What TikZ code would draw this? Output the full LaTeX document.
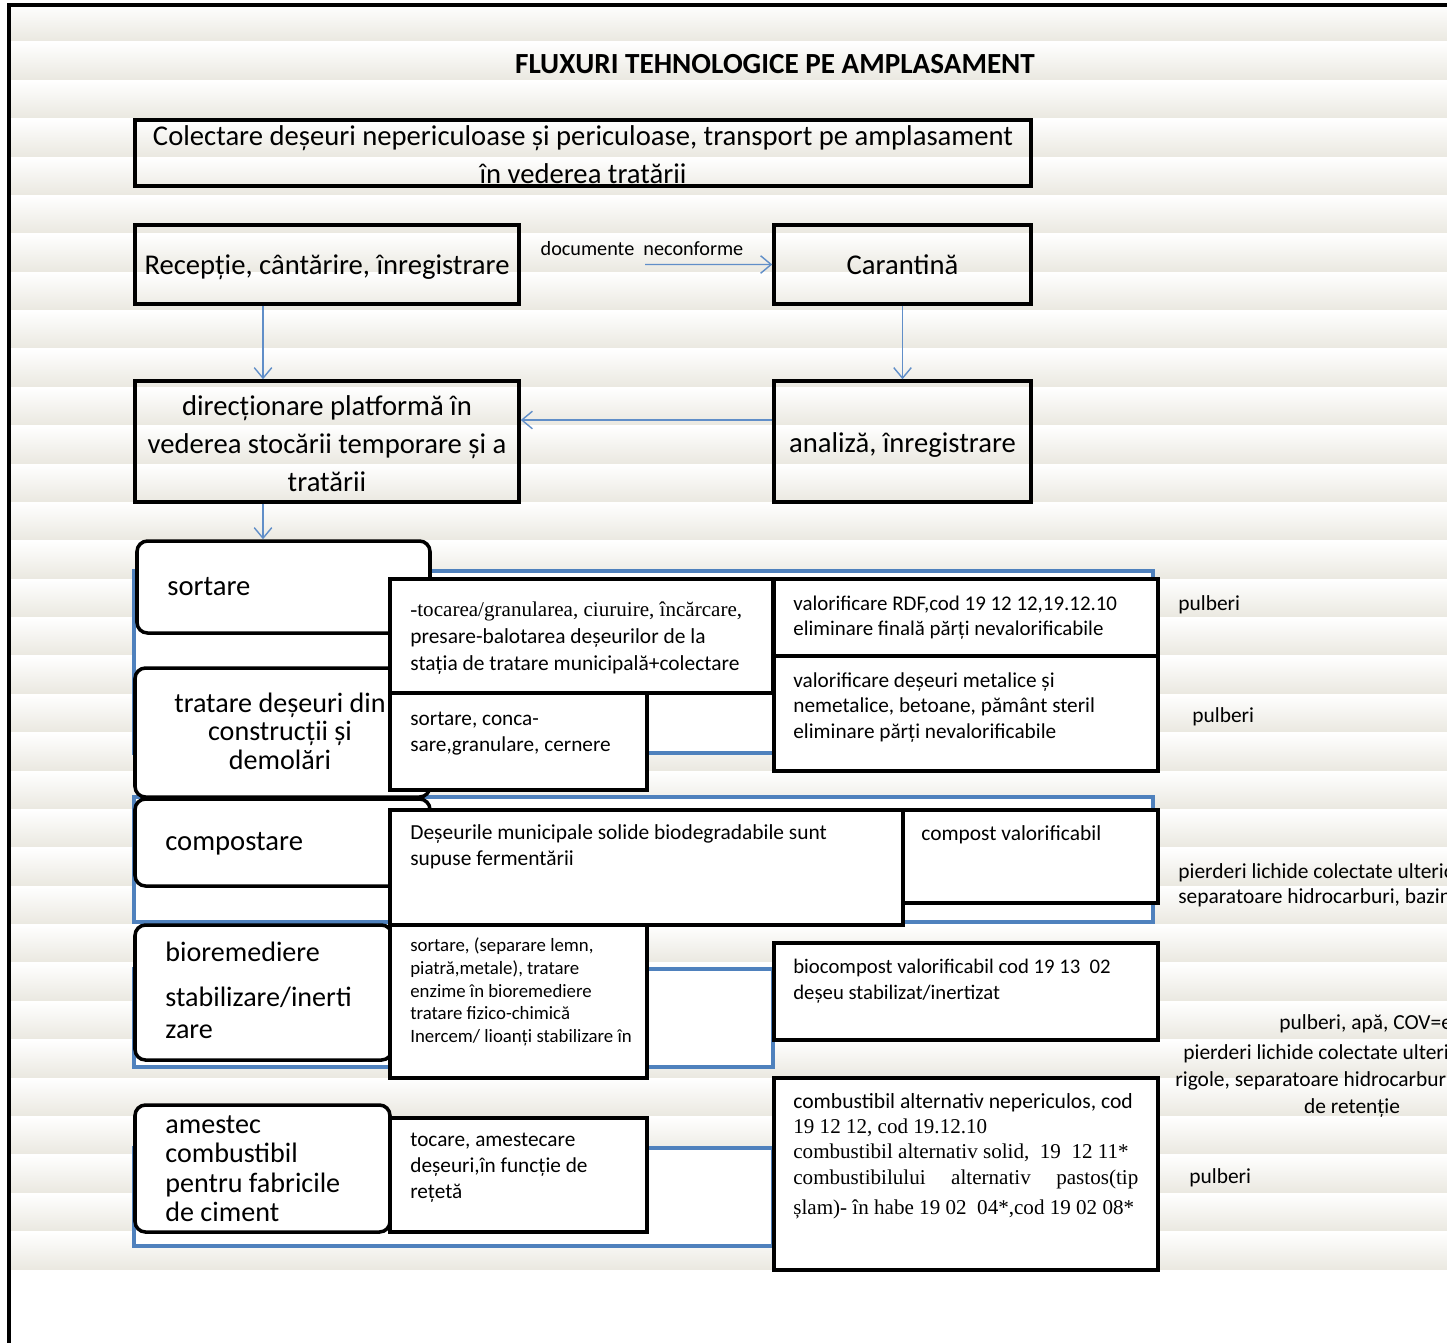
\documentclass[tikz,border=0pt]{standalone}
\usepackage{fontspec}
\setmainfont{Carlito}
\newfontfamily\tms{Liberation Serif}
\usetikzlibrary{fit,arrows.meta,calc}
\definecolor{bandgray}{RGB}{234,232,224}
\definecolor{grpblue}{RGB}{79,129,189}
\definecolor{arrblue}{RGB}{96,142,200}
\begin{document}
\begin{tikzpicture}[x=0.02cm,y=-0.02cm,
  blk/.style={draw=black,line width=2pt,inner sep=0pt},
  wblk/.style={blk,fill=white},
  rblk/.style={wblk,rounded corners=6pt},
  grp/.style={draw=grpblue,line width=1.8pt,fill=white,inner sep=0pt},
  conn/.style={draw=arrblue,line width=0.8pt,-{Straight Barb[length=6pt,width=10pt]}},
  txt/.style={inner sep=0pt,align=left},
  bigf/.style={font=\fontsize{16.3}{21.6}\selectfont},
  sidef/.style={inner sep=0pt,anchor=base west,font=\fontsize{12.2}{14}\selectfont}]
\useasboundingbox (0,0) rectangle (1447,1343);
\begin{scope}
\clip (0,0) rectangle (1447,1343);
\fill[white] (0,0) rectangle (1447,1343);
% striped page background
\foreach \k in {0,...,32}{
  \shade[top color=white,bottom color=bandgray]
    (10,{3.6+38.375*\k}) rectangle (1447,{3.6+38.375*(\k+1)});
}
% page frame
\draw[line width=2.2pt] (7,5) -- (1447,5);
\draw[line width=2.2pt] (9,5) -- (9,1343);

% title
\node[font=\fontsize{16.6}{19}\selectfont\bfseries] (title) at (775,64) {FLUXURI TEHNOLOGICE PE AMPLASAMENT};

% upper flow
\node[blk,fit={(135,120) (1031,186)}] (colect) {};
\node[bigf,txt,align=center,anchor=north] (tcolect) at (583,118.4)
  {\strut Colectare deșeuri nepericuloase și periculoase, transport pe amplasament\\în vederea tratării};
\node[blk,fit={(135,225) (519,304)}] (recep) {};
\node[bigf,inner sep=0pt] (trecep) at ([yshift=-0.05cm]recep.center) {Recepție, cântărire, înregistrare};
\node[blk,fit={(774,225) (1031,304)}] (carant) {};
\node[bigf,inner sep=0pt] (tcarant) at (carant.center) {Carantină};
\node[blk,fit={(135,381) (519,502)}] (direc) {};
\node[bigf,txt,align=center,anchor=north] (tdirec) at (327,388.4)
  {\strut direcționare platformă în\\vederea stocării temporare și a\\tratării};
\node[blk,fit={(774,381) (1031,502)}] (anal) {};
\node[bigf,inner sep=0pt] (tanal) at ([yshift=-0.07cm]anal.center) {analiză, înregistrare};
\node[inner sep=0pt,font=\fontsize{11.5}{14}\selectfont] (docs) at (642,249) {documente\ \ neconforme};

\coordinate (xl) at (263,0);
\coordinate (yr) at (0,420);
\coordinate (docstart) at (645,264.5);
\draw[conn] (docstart) -- (carant.west);
\draw[conn] (recep.south -| xl) -- (direc.north -| xl);
\draw[conn] (carant.south) -- (anal.north);
\draw[conn] (anal.west |- yr) -- (direc.east |- yr);

% group frames
\node[grp,fit={(134,571) (1153,753)}] (g1) {};
\node[grp,fit={(134,797) (1153,922)}] (g2) {};
\node[grp,fit={(134,969) (773,1067)}] (g3) {};
\node[grp,fit={(134,1148) (773,1246)}] (g4) {};

% process boxes
\node[rblk,fit={(137,541) (430,633)}] (sortare) {};
\node[rblk,fit={(135,668) (430,797)}] (tratare) {};
\node[rblk,fit={(135,799) (430,886)}] (compost) {};
\node[rblk,fit={(135,925) (392,1060)}] (biorem) {};
\node[rblk,fit={(135,1105) (390,1232)}] (amestec) {};
\draw[conn] (direc.south -| xl) -- (sortare.north -| xl);

\node[bigf,inner sep=0pt,anchor=base west] (tsortare) at (167,595) {sortare};
\node[txt,align=center,anchor=north,font=\fontsize{16}{16.2}\selectfont] (ttratare) at (280,692)
  {\strut tratare deșeuri din\\construcții și\\demolări};
\node[bigf,inner sep=0pt,anchor=base west] (tcompost) at (165,850) {compostare};
\node[txt,anchor=north west,font=\fontsize{16}{18.2}\selectfont] (tbiorem) at (165,938.6)
  {\strut bioremediere\\[7.4pt]stabilizare/inerti\\zare};
\node[txt,anchor=north west,font=\fontsize{16}{16.7}\selectfont] (tamestec) at (165,1112.5)
  {\strut amestec\\combustibil\\pentru fabricile\\de ciment};

% operations
\node[wblk,fit={(390,579) (773,693)}] (tocarea) {};
\node[txt,anchor=north west,font=\fontsize{12.2}{15.4}\selectfont] (ttocarea) at (410,597.1)
  {\strut{\tms\fontsize{12}{15.4}\selectfont -tocarea/granularea, ciuruire, încărcare,}\\presare-balotarea deșeurilor de la\\stația de tratare municipală+colectare};
\node[wblk,fit={(390,693) (647,790)}] (conca) {};
\node[txt,anchor=north west,font=\fontsize{12.1}{14.8}\selectfont] (tconca) at (410,706.8)
  {\strut sortare, conca-\\sare,granulare, cernere};
\node[wblk,fit={(390,810) (903,925)}] (deseuri) {};
\node[txt,anchor=north west,font=\fontsize{12.2}{14.8}\selectfont] (tdeseuri) at (410,820.8)
  {\strut Deșeurile municipale solide biodegradabile sunt\\supuse fermentării};
\node[wblk,fit={(390,925) (647,1078)}] (separ) {};
\node[txt,anchor=north west,font=\fontsize{10.7}{12.9}\selectfont] (tsepar) at (410,935.6)
  {\strut sortare, (separare lemn,\\piatră,metale), tratare\\enzime în bioremediere\\tratare fizico-chimică\\Inercem/ lioanți stabilizare în};
\node[wblk,fit={(390,1118) (647,1232)}] (tocare) {};
\node[txt,anchor=north west,font=\fontsize{12.1}{14.8}\selectfont] (ttocare) at (410,1127.8)
  {\strut tocare, amestecare\\deșeuri,în funcție de\\rețetă};

% results
\node[wblk,fit={(774,579) (1158,656)}] (rdf) {};
\node[txt,anchor=north west,font=\fontsize{11.9}{14.2}\selectfont] (trdf) at (793,592.5)
  {\strut valorificare RDF,cod 19 12 12,19.12.10\\eliminare finală părți nevalorificabile};
\node[wblk,fit={(774,656) (1158,771)}] (metal) {};
\node[txt,anchor=north west,font=\fontsize{12.1}{14.5}\selectfont] (tmetal) at (793,669.2)
  {\strut valorificare deșeuri metalice și\\nemetalice, betoane, pământ steril\\eliminare părți nevalorificabile};
\node[wblk,fit={(903,810) (1158,903)}] (compval) {};
\node[inner sep=0pt,anchor=base west,font=\fontsize{12.2}{14}\selectfont] (tcompval) at (921,840) {compost valorificabil};
\node[wblk,fit={(774,943) (1158,1040)}] (biocomp) {};
\node[txt,anchor=north west,font=\fontsize{11.8}{14.8}\selectfont] (tbiocomp) at (793,954.8)
  {\strut biocompost valorificabil cod 19 13\ \ 02\\deșeu stabilizat/inertizat};
\node[wblk,fit={(774,1078) (1158,1270)}] (combust) {};
\node[txt,anchor=north west,font=\fontsize{12.3}{14.4}\selectfont] (tcombust) at (793,1090.3)
  {\strut combustibil alternativ nepericulos, cod\\
   {\tms\fontsize{12}{14.4}\selectfont 19 12 12, cod 19.12.10}\\
   {\tms\fontsize{12}{14.4}\selectfont combustibil alternativ solid,\ \ 19\ \ 12 11*}\\
   {\tms\fontsize{12}{14.4}\selectfont\makebox[6.9cm][s]{combustibilului alternativ pastos(tip}}\\[2.6pt]
   {\tms\fontsize{12}{14.4}\selectfont șlam)- în habe 19 02\ \ 04*,cod 19 02 08*}};

% emissions
\node[sidef] (e1) at (1178,610) {pulberi};
\node[sidef] (e2) at (1192,722) {pulberi};
\node[sidef] (e3) at (1178,878) {pierderi lichide colectate ulterio};
\node[sidef] (e4) at (1178,903) {separatoare hidrocarburi, bazin};
\node[sidef] (e5) at (1279,1029) {pulberi, apă, COV=e};
\node[sidef] (e6) at (1183,1059) {pierderi lichide colectate ulteri};
\node[sidef] (e7) at (1175,1086) {rigole, separatoare hidrocarbur};
\node[inner sep=0pt,anchor=base,font=\fontsize{12.2}{14}\selectfont] (e8) at (1352,1113) {de retenție};
\node[sidef] (e9) at (1189,1183) {pulberi};
\end{scope}
\end{tikzpicture}
\end{document}
